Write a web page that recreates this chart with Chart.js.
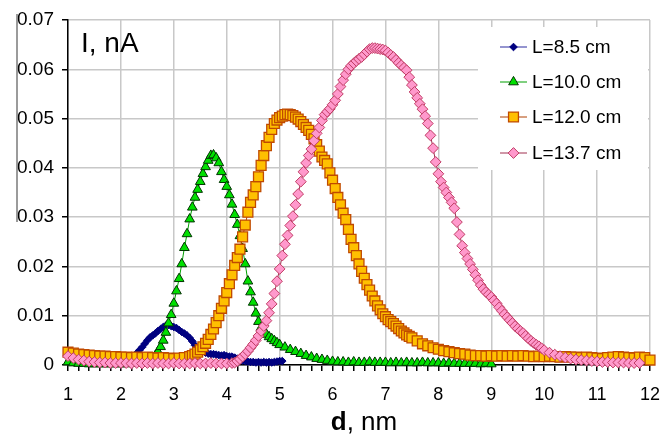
<!DOCTYPE html>
<html><head><meta charset="utf-8">
<script src="https://cdn.jsdelivr.net/npm/chart.js@4/dist/chart.umd.min.js"></script>
<style>html,body{margin:0;padding:0;background:#fff;}#wrap{width:662px;height:434px;position:relative;}</style>
</head><body><div id="wrap"><canvas id="c" width="662" height="434"></canvas></div>
<script>
const seriesLabels = ['L=8.5 cm', 'L=10.0 cm', 'L=12.0 cm', 'L=13.7 cm'];
const xAxisTitle = ['d', ', nm'];
const yAxisTitle = 'I, nA';

const blueD = [2.00,2.05,2.10,2.15,2.20,2.25,2.30,2.35,2.40,2.45,2.50,2.55,2.60,2.65,2.70,2.75,2.80,2.85,2.90,2.95,3.00,3.05,3.10,3.15,3.20,3.25,3.30,3.35,3.40,3.45,3.50,3.55,3.60,3.65,3.70,3.75,3.80,3.85,3.90,3.95,4.00,4.05,4.10,4.15,4.20,4.25,4.30,4.35,4.40,4.45,4.50,4.55,4.60,4.65,4.70,4.75,4.80,4.85,4.90,4.95,5.00,5.05];
const blueI = [0.0003,0.0004,0.0005,0.0008,0.0012,0.0018,0.0024,0.0030,0.0036,0.0043,0.0050,0.0056,0.0060,0.0064,0.0069,0.0073,0.0077,0.0080,0.0081,0.0079,0.0077,0.0075,0.0071,0.0067,0.0064,0.0060,0.0055,0.0048,0.0040,0.0035,0.0031,0.0028,0.0025,0.0023,0.0022,0.0022,0.0021,0.0020,0.0019,0.0020,0.0018,0.0017,0.0017,0.0015,0.0013,0.0011,0.0009,0.0008,0.0007,0.0006,0.0006,0.0005,0.0006,0.0005,0.0006,0.0005,0.0006,0.0005,0.0006,0.0007,0.0008,0.0008];

const greenD = [1.0,1.1,1.2,1.3,1.4,1.5,1.6,1.7,1.8,1.9,2.0,2.1,2.2,2.3,2.4,2.5,
2.55,2.60,2.65,2.70,2.75,2.80,2.85,2.90,2.95,3.00,3.05,3.10,3.15,3.20,3.25,3.30,3.35,3.40,3.45,3.50,3.55,3.60,3.65,3.70,3.75,3.80,3.85,3.90,3.95,4.00,4.05,4.10,4.15,4.20,4.25,4.30,4.35,4.40,4.45,4.50,4.55,4.60,4.65,4.70,4.75,4.80,4.85,4.90,4.95,5.00,
5.1,5.2,5.3,5.4,5.5,5.6,5.7,5.8,5.9,6.0,6.1,6.2,6.3,6.4,6.5,6.6,6.7,6.8,6.9,7.0,7.1,7.2,7.3,7.4,7.5,7.6,7.7,7.8,7.9,8.0,8.1,8.2,8.3,8.4,8.5,8.6,8.7,8.8,8.9,9.0];
const greenI = [0.0006,0.0004,0.0003,0.0003,0.0002,0.0002,0.0002,0.0002,0.0002,0.0002,0.0002,0.0002,0.0003,0.0003,0.0004,0.0006,
0.0009,0.0013,0.0019,0.0027,0.0037,0.0050,0.0066,0.0085,0.0102,0.0125,0.0150,0.0175,0.0205,0.0238,0.0266,0.0296,0.0320,0.0340,0.0356,0.0372,0.0388,0.0402,0.0415,0.0425,0.0426,0.0420,0.0410,0.0392,0.0376,0.0362,0.0345,0.0326,0.0305,0.0285,0.0262,0.0236,0.0205,0.0170,0.0148,0.0127,0.0105,0.0088,0.0076,0.0068,0.0062,0.0057,0.0053,0.0049,0.0045,0.0041,
0.0036,0.0031,0.0027,0.0023,0.0019,0.0016,0.0013,0.0011,0.0009,0.0007,0.0006,0.0006,0.0005,0.0006,0.0005,0.0005,0.0006,0.0005,0.0005,0.0005,0.0004,0.0005,0.0004,0.0005,0.0004,0.0004,0.0005,0.0004,0.0004,0.0004,0.0003,0.0004,0.0003,0.0003,0.0003,0.0003,0.0003,0.0002,0.0003,0.0002];

const orangeD = [1.0,1.1,1.2,1.3,1.4,1.5,1.6,1.7,1.8,1.9,2.0,2.1,2.2,2.3,2.4,2.5,2.6,2.7,2.8,2.9,3.0,3.1,3.2,3.3,
3.35,3.40,3.45,3.50,3.55,3.60,3.65,3.70,3.75,3.80,3.85,3.90,3.95,4.00,4.05,4.10,4.15,4.20,4.25,4.30,4.35,4.40,4.45,4.50,4.55,4.60,4.65,4.70,4.75,4.80,4.85,4.90,4.95,5.00,5.05,5.10,5.15,5.20,5.25,5.30,5.35,5.40,5.45,5.50,5.55,5.60,5.65,5.70,5.75,5.80,5.85,5.90,5.95,6.00,6.05,6.10,6.15,6.20,6.25,6.30,6.35,6.40,6.45,6.50,6.55,6.60,6.65,6.70,6.75,6.80,6.85,6.90,6.95,7.00,7.05,7.10,7.15,7.20,7.25,7.30,7.35,7.40,7.45,7.50,
7.6,7.7,7.8,7.9,8.0,8.1,8.2,8.3,8.4,8.5,8.6,8.7,8.8,8.9,9.0,9.1,9.2,9.3,9.4,9.5,9.6,9.7,9.8,9.9,10.0,10.1,10.2,10.3,10.4,10.5,10.6,10.7,10.8,10.9,11.0,11.1,11.2,11.3,11.4,11.5,11.6,11.7,11.8,11.9,12.0];
const orangeI = [0.0026,0.0024,0.0022,0.0021,0.0020,0.0019,0.0018,0.0018,0.0017,0.0017,0.0016,0.0016,0.0015,0.0016,0.0015,0.0016,0.0015,0.0014,0.0015,0.0014,0.0013,0.0014,0.0015,0.0017,
0.0019,0.0022,0.0026,0.0031,0.0037,0.0044,0.0052,0.0062,0.0073,0.0086,0.0100,0.0115,0.0130,0.0147,0.0165,0.0183,0.0202,0.0218,0.0235,0.0260,0.0284,0.0310,0.0330,0.0345,0.0362,0.0382,0.0405,0.0425,0.0445,0.0462,0.0478,0.0490,0.0497,0.0502,0.0505,0.0508,0.0509,0.0508,0.0506,0.0503,0.0499,0.0494,0.0488,0.0482,0.0476,0.0468,0.0459,0.0447,0.0434,0.0422,0.0415,0.0408,0.0390,0.0375,0.0358,0.0340,0.0325,0.0308,0.0295,0.0275,0.0255,0.0238,0.0222,0.0205,0.0190,0.0176,0.0163,0.0152,0.0140,0.0130,0.0120,0.0112,0.0104,0.0098,0.0092,0.0088,0.0084,0.0079,0.0074,0.0069,0.0065,0.0061,0.0058,0.0055,
0.0049,0.0043,0.0039,0.0035,0.0032,0.0029,0.0027,0.0025,0.0023,0.0022,0.0020,0.0019,0.0019,0.0018,0.0019,0.0018,0.0019,0.0018,0.0019,0.0018,0.0019,0.0018,0.0017,0.0018,0.0017,0.0018,0.0017,0.0016,0.0017,0.0016,0.0016,0.0015,0.0016,0.0015,0.0014,0.0013,0.0015,0.0016,0.0017,0.0016,0.0015,0.0014,0.0016,0.0015,0.0010];

const pinkD = [1.0,1.1,1.2,1.3,1.4,1.5,1.6,1.7,1.8,1.9,2.0,2.1,2.2,2.3,2.4,2.5,2.6,2.7,2.8,2.9,3.0,3.1,3.2,3.3,3.4,3.5,3.6,3.7,3.8,3.9,4.0,4.1,
4.15,4.20,4.25,4.30,4.35,4.40,4.45,4.50,4.55,4.60,4.65,4.70,4.75,4.80,4.85,4.90,4.95,5.00,5.05,5.10,5.15,5.20,5.25,5.30,5.35,5.40,5.45,5.50,5.55,5.60,5.65,5.70,5.75,5.80,5.85,5.90,5.95,6.00,6.05,6.10,6.15,6.20,6.25,6.30,6.35,6.40,6.45,6.50,6.55,6.60,6.65,6.70,6.75,6.80,6.85,6.90,6.95,7.00,7.05,7.10,7.15,7.20,7.25,7.30,7.35,7.40,7.45,7.50,7.55,7.60,7.65,7.70,7.75,7.80,7.85,7.90,7.95,8.00,8.05,8.10,8.15,8.20,8.25,8.30,8.35,8.40,8.45,8.50,8.55,8.60,8.65,8.70,8.75,8.80,8.85,8.90,8.95,9.00,9.05,9.10,9.15,9.20,9.25,9.30,9.35,9.40,9.45,9.50,9.55,9.60,9.65,9.70,9.75,9.80,9.85,9.90,9.95,10.00,
10.1,10.2,10.3,10.4,10.5,10.6,10.7,10.8,10.9,11.0,11.1,11.2,11.3,11.4,11.5,11.6,11.7,11.8];
const pinkI = [0.0018,0.0014,0.0011,0.0009,0.0007,0.0006,0.0005,0.0005,0.0004,0.0004,0.0004,0.0004,0.0003,0.0004,0.0003,0.0004,0.0003,0.0004,0.0003,0.0003,0.0004,0.0003,0.0003,0.0003,0.0004,0.0003,0.0003,0.0004,0.0003,0.0003,0.0003,0.0004,
0.0005,0.0008,0.0012,0.0017,0.0022,0.0028,0.0035,0.0042,0.0050,0.0059,0.0069,0.0079,0.0090,0.0106,0.0124,0.0145,0.0170,0.0195,0.0222,0.0245,0.0263,0.0283,0.0302,0.0325,0.0347,0.0372,0.0392,0.0410,0.0425,0.0438,0.0455,0.0470,0.0482,0.0496,0.0508,0.0514,0.0520,0.0528,0.0537,0.0550,0.0565,0.0578,0.0590,0.0600,0.0607,0.0612,0.0617,0.0621,0.0625,0.0630,0.0636,0.0641,0.0643,0.0643,0.0642,0.0641,0.0640,0.0638,0.0634,0.0629,0.0625,0.0619,0.0613,0.0608,0.0603,0.0598,0.0584,0.0568,0.0554,0.0542,0.0530,0.0519,0.0505,0.0490,0.0466,0.0440,0.0412,0.0388,0.0372,0.0360,0.0350,0.0340,0.0330,0.0318,0.0290,0.0265,0.0242,0.0228,0.0216,0.0205,0.0194,0.0183,0.0172,0.0162,0.0154,0.0148,0.0143,0.0138,0.0131,0.0125,0.0117,0.0110,0.0103,0.0097,0.0091,0.0085,0.0079,0.0074,0.0069,0.0065,0.0059,0.0054,0.0049,0.0045,0.0041,0.0038,0.0034,0.0030,
0.0025,0.0021,0.0018,0.0015,0.0013,0.0011,0.0010,0.0009,0.0008,0.0007,0.0006,0.0006,0.0005,0.0005,0.0005,0.0004,0.0004,0.0004];

const FONT = "'Liberation Sans', Arial, sans-serif";
const styles = [
  {line:'#2a2aa0', bg:'#000080', border:'#000080', shape:'rectRot', r:3.8, bw:1},
  {line:'#00a000', bg:'#00e000', border:'#003300', shape:'triangle', r:5.6, bw:1},
  {line:'#b04000', bg:'#ffc000', border:'#c04a00', shape:'rect', r:7, bw:1.3},
  {line:'#a03050', bg:'#ff99cc', border:'#c03c64', shape:'rectRot', r:5.4, bw:1}
];
const seriesD = [blueD, greenD, orangeD, pinkD];
const seriesI = [blueI, greenI, orangeI, pinkI];

const datasets = seriesLabels.map((lab, k) => ({
  label: lab,
  data: seriesD[k].map((d, i) => ({x: d, y: seriesI[k][i]})),
  showLine: true,
  borderColor: styles[k].line,
  borderWidth: 1,
  pointStyle: styles[k].shape,
  pointRadius: styles[k].r,
  pointBackgroundColor: styles[k].bg,
  pointBorderColor: styles[k].border,
  pointBorderWidth: styles[k].bw,
  order: 3 - k,
  clip: false
}));

function drawMarker(ctx, shape, x, y, r) {
  ctx.beginPath();
  if (shape === 'rectRot') {
    ctx.moveTo(x, y - r); ctx.lineTo(x + r, y); ctx.lineTo(x, y + r); ctx.lineTo(x - r, y);
  } else if (shape === 'triangle') {
    const a = r * Math.sqrt(3) / 2;
    ctx.moveTo(x, y - r); ctx.lineTo(x + a, y + r / 2); ctx.lineTo(x - a, y + r / 2);
  } else {
    const s = r / Math.SQRT2;
    ctx.rect(x - s, y - s, 2 * s, 2 * s);
  }
  ctx.closePath();
  ctx.fill(); ctx.stroke();
}

const overlay = {
  id: 'overlay',
  beforeDatasetsDraw(chart) {
    const ctx = chart.ctx;
    ctx.save();
    ctx.fillStyle = '#ffffff';
    ctx.fillRect(478, 27, 170, 143);
    ctx.restore();
  },
  afterDraw(chart) {
    const ctx = chart.ctx;
    ctx.save();
    ctx.strokeStyle = '#7a7a7a'; ctx.lineWidth = 1.5;
    ctx.beginPath(); ctx.moveTo(17, 14); ctx.lineTo(17, 222); ctx.stroke();
    ctx.fillStyle = '#000';
    ctx.font = '28px ' + FONT;
    ctx.textBaseline = 'alphabetic'; ctx.textAlign = 'left';
    ctx.fillText(yAxisTitle, 81, 52);
    ctx.font = 'bold 26px ' + FONT;
    const w1 = ctx.measureText(xAxisTitle[0]).width;
    ctx.font = '26px ' + FONT;
    const w2 = ctx.measureText(xAxisTitle[1]).width;
    const cx = (chart.chartArea.left + chart.chartArea.right) / 2 + 5;
    let x0 = cx - (w1 + w2) / 2;
    ctx.font = 'bold 26px ' + FONT;
    ctx.fillText(xAxisTitle[0], x0, 430);
    ctx.font = '26px ' + FONT;
    ctx.fillText(xAxisTitle[1], x0 + w1, 430);
    const rows = [47, 82, 117, 153];
    ctx.font = '19px ' + FONT;
    ctx.textBaseline = 'middle';
    seriesLabels.forEach((lab, k) => {
      const y = rows[k];
      ctx.strokeStyle = styles[k].line; ctx.lineWidth = 1;
      ctx.beginPath(); ctx.moveTo(500, y); ctx.lineTo(527, y); ctx.stroke();
      ctx.fillStyle = styles[k].bg; ctx.strokeStyle = styles[k].border; ctx.lineWidth = styles[k].bw;
      drawMarker(ctx, styles[k].shape, 513.5, y, styles[k].r);
      ctx.fillStyle = '#000';
      ctx.fillText(lab, 532, y + 1);
    });
    ctx.restore();
  }
};

const isInt = v => Math.abs(v - Math.round(v)) < 1e-6;

new Chart(document.getElementById('c'), {
  type: 'scatter',
  data: { datasets },
  options: {
    responsive: false,
    animation: false,
    devicePixelRatio: 1,
    layout: { autoPadding: false, padding: { top: 20, right: 12, left: 0, bottom: 0 } },
    plugins: { legend: { display: false }, tooltip: { enabled: false } },
    scales: {
      x: {
        type: 'linear', min: 1, max: 12,
        afterFit: s => { s.height = 69; s.paddingLeft = 0; s.paddingRight = 0; },
        ticks: {
          stepSize: 0.2, autoSkip: false, maxRotation: 0, padding: 13,
          color: '#000', font: { family: FONT, size: 18 },
          callback: v => isInt(v) ? String(Math.round(v)) : ''
        },
        grid: {
          color: c => (c.tick && isInt(c.tick.value)) ? '#c8c8c8' : 'rgba(0,0,0,0)',
          lineWidth: 1.5, tickColor: '#000', tickLength: 6, drawTicks: true
        },
        border: { color: '#000', width: 1.5 }
      },
      y: {
        type: 'linear', min: 0, max: 0.07,
        afterFit: s => { s.width = 68; s.paddingTop = 0; s.paddingBottom = 0; },
        ticks: {
          stepSize: 0.01, padding: 8, color: '#000', font: { family: FONT, size: 19 },
          callback: v => v === 0 ? '0' : v.toFixed(2)
        },
        grid: { color: '#c8c8c8', lineWidth: 1.5, tickColor: '#000', tickLength: 6 },
        border: { color: '#000', width: 1.5 }
      }
    }
  },
  plugins: [overlay]
});
</script></body></html>
